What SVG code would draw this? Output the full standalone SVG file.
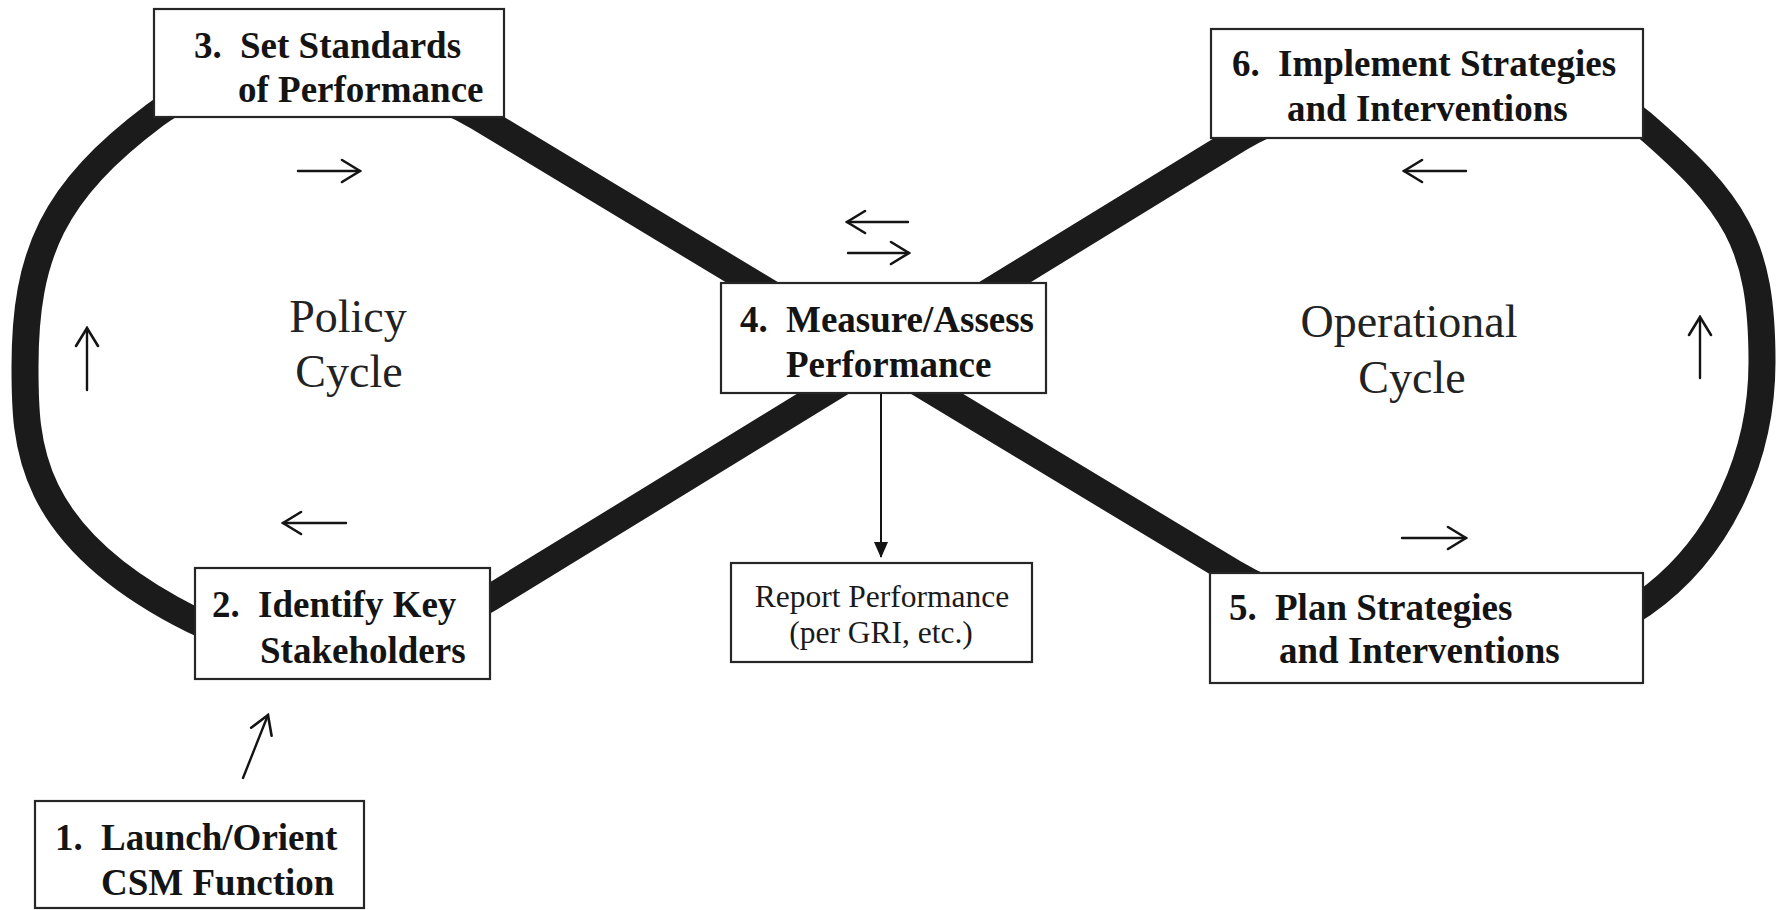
<svg xmlns="http://www.w3.org/2000/svg" width="1781" height="910" viewBox="0 0 1781 910">
  <style>
    .bg { fill: #ffffff; }
    .band { fill: none; stroke: #1b1b1b; stroke-width: 27; stroke-linejoin: round; }
    .box { fill: #ffffff; stroke: #262626; stroke-width: 2.2; }
    .lbl { font-family: "Liberation Serif", "Times New Roman", serif; font-weight: bold; font-size: 37px; fill: #141414; }
    .cyc { font-family: "Liberation Serif", "Times New Roman", serif; font-size: 46px; fill: #222222; text-anchor: middle; }
    .rep { font-family: "Liberation Serif", "Times New Roman", serif; font-size: 31.5px; fill: #1a1a1a; text-anchor: middle; }
    .arr { fill: none; stroke: #141414; stroke-width: 2.4; stroke-linecap: round; marker-end: url(#open); }
    .conn { fill: none; stroke: #141414; stroke-width: 2; marker-end: url(#solid); }
  </style>
  <defs>
    <marker id="open" viewBox="0 0 22 26" refX="20" refY="13" markerWidth="22" markerHeight="26" markerUnits="userSpaceOnUse" orient="auto">
      <path d="M2,2 L20,13 L2,24" fill="none" stroke="#141414" stroke-width="2.6" stroke-linecap="round" stroke-linejoin="miter"/>
    </marker>
    <marker id="solid" viewBox="0 0 16 14" refX="15" refY="7" markerWidth="16" markerHeight="14" markerUnits="userSpaceOnUse" orient="auto">
      <path d="M0,0 L16,7 L0,14 Z" fill="#141414"/>
    </marker>
  </defs>
  <rect class="bg" x="0" y="0" width="1781" height="910"/>

  <g id="cycle-band">
    <path class="band" d="M 478,117 L 1234,573 C 1344,639 1573,653 1643,604 C 1724.3,546.8 1762,451.2 1762,362 C 1762,243 1735.1,203.3 1642,123 C 1582,71 1350,71 1240,138 L 490,598 C 400,653 283,665 193,620 C 25,536 25,442 25,367 C 25,253.5 53.4,191.2 155,115 C 235,55 388,63 478,117 Z"/>
  </g>

  <g id="cycle-labels">
    <text class="cyc" x="348" y="332">Policy</text>
    <text class="cyc" x="349" y="387">Cycle</text>
    <text class="cyc" x="1409" y="337">Operational</text>
    <text class="cyc" x="1412" y="393">Cycle</text>
  </g>

  <g id="connectors">
    <path class="arr" d="M 298,171 L 360,171"/>
    <path class="arr" d="M 908,222 L 847,222"/>
    <path class="arr" d="M 848,253 L 909,253"/>
    <path class="arr" d="M 1466,171 L 1404,171"/>
    <path class="arr" d="M 87,390 L 87,328"/>
    <path class="arr" d="M 346,523 L 283,523"/>
    <path class="arr" d="M 1402,538 L 1466,538"/>
    <path class="arr" d="M 1700,378 L 1700,317"/>
    <path class="arr" d="M 243,778 L 268,715"/>
    <path class="conn" d="M 881,393 L 881,557"/>
  </g>

  <g id="node-3">
    <rect class="box" x="154" y="9" width="350" height="108"/>
    <text class="lbl" y="58"><tspan x="194">3.</tspan><tspan x="240">Set Standards</tspan></text>
    <text class="lbl" x="238" y="102">of Performance</text>
  </g>

  <g id="node-6">
    <rect class="box" x="1211" y="29" width="432" height="109"/>
    <text class="lbl" y="76"><tspan x="1232">6.</tspan><tspan x="1278">Implement Strategies</tspan></text>
    <text class="lbl" x="1287" y="121">and Interventions</text>
  </g>

  <g id="node-4">
    <rect class="box" x="721" y="283" width="325" height="110"/>
    <text class="lbl" y="332"><tspan x="740">4.</tspan><tspan x="786">Measure/Assess</tspan></text>
    <text class="lbl" x="786" y="377">Performance</text>
  </g>

  <g id="node-report">
    <rect class="box" x="731" y="563" width="301" height="99"/>
    <text class="rep" x="882" y="607">Report Performance</text>
    <text class="rep" x="881" y="643">(per GRI, etc.)</text>
  </g>

  <g id="node-2">
    <rect class="box" x="195" y="568" width="295" height="111"/>
    <text class="lbl" y="617"><tspan x="212">2.</tspan><tspan x="258">Identify Key</tspan></text>
    <text class="lbl" x="260" y="663">Stakeholders</text>
  </g>

  <g id="node-5">
    <rect class="box" x="1210" y="573" width="433" height="110"/>
    <text class="lbl" y="620"><tspan x="1229">5.</tspan><tspan x="1275">Plan Strategies</tspan></text>
    <text class="lbl" x="1279" y="663">and Interventions</text>
  </g>

  <g id="node-1">
    <rect class="box" x="35" y="801" width="329" height="107"/>
    <text class="lbl" y="850"><tspan x="55">1.</tspan><tspan x="101">Launch/Orient</tspan></text>
    <text class="lbl" x="101" y="895">CSM Function</text>
  </g>
</svg>
